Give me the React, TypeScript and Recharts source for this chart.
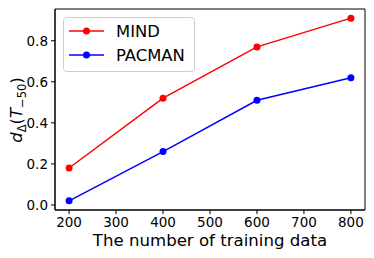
import React from "react";
import {
  LineChart,
  Line,
  XAxis,
  YAxis,
  Legend,
  ReferenceArea,
} from "recharts";

const trainingSizes = [200, 400, 600, 800];
const mindValues = [0.18, 0.52, 0.77, 0.91];
const pacmanValues = [0.02, 0.26, 0.51, 0.62];
const xTicks = [200, 300, 400, 500, 600, 700, 800];
const yTicks = [0, 0.2, 0.4, 0.6, 0.8];
const xDomain = [170, 830];
const yDomain = [-0.0245, 0.9545];

const FONT = "DejaVu Sans, sans-serif";

const chartData = trainingSizes.map((n, i) => ({
  n,
  mind: mindValues[i],
  pacman: pacmanValues[i],
}));

const series = [
  { key: "mind", name: "MIND", color: "#ff0000" },
  { key: "pacman", name: "PACMAN", color: "#0000ff" },
];

function LegendBox() {
  return (
    <svg width={133} height={56} style={{ display: "block" }}>
      <rect
        x={0.5}
        y={0.5}
        width={131}
        height={54}
        rx={3}
        fill="#ffffff"
        fillOpacity={0.8}
        stroke="#cccccc"
      />
      {series.map((s, i) => {
        const y = 14 + i * 24;
        return (
          <g key={s.key}>
            <line x1={6} x2={41} y1={y} y2={y} stroke={s.color} strokeWidth={1.5} />
            <circle cx={23.5} cy={y} r={3.5} fill={s.color} />
            <text
              x={53}
              y={y}
              dominantBaseline="central"
              fontSize={16.4}
              fontFamily={FONT}
              fill="#000"
            >
              {s.name}
            </text>
          </g>
        );
      })}
    </svg>
  );
}

function YLabel() {
  return (
    <text
      x={22}
      y={110}
      transform="rotate(-90, 22, 110)"
      textAnchor="middle"
      fontFamily={FONT}
      fontSize={16.5}
      fill="#000"
    >
      <tspan fontStyle="italic">d</tspan>
      <tspan fontSize={11.5} dy={4}>Δ</tspan>
      <tspan dy={-4}>(</tspan>
      <tspan fontStyle="italic">T</tspan>
      <tspan fontSize={11.5} dy={4}>−50</tspan>
      <tspan dy={-4}>)</tspan>
    </text>
  );
}

function XLabel() {
  return (
    <text
      x={210}
      y={246}
      textAnchor="middle"
      fontFamily={FONT}
      fontSize={16.6}
      fill="#000"
    >
      The number of training data
    </text>
  );
}

export default function App() {
  return (
    <div style={{ position: "absolute", left: 0, top: 0, background: "#fff" }}>
      <LineChart
        width={374}
        height={258}
        data={chartData}
        margin={{ top: 9, right: 9, left: 0, bottom: 0 }}
      >
        <XAxis
          dataKey="n"
          type="number"
          domain={xDomain}
          ticks={xTicks}
          allowDataOverflow
          height={48}
          tick={{ fontSize: 13.5, fill: "#000", fontFamily: FONT }}
          tickSize={4}
          tickMargin={3}
          stroke="#000"
          label={<XLabel />}
        />
        <YAxis
          type="number"
          domain={yDomain}
          ticks={yTicks}
          allowDataOverflow
          width={55}
          tick={{ fontSize: 13.5, fill: "#000", fontFamily: FONT }}
          tickFormatter={(v: number) => v.toFixed(1)}
          tickSize={4}
          tickMargin={3}
          stroke="#000"
          label={<YLabel />}
        />
        <ReferenceArea
          x1={xDomain[0]}
          x2={xDomain[1]}
          y1={yDomain[0]}
          y2={yDomain[1]}
          fill="none"
          stroke="#000"
          strokeWidth={1}
          ifOverflow="visible"
        />
        <Legend
          layout="horizontal"
          verticalAlign="middle"
          align="center"
          wrapperStyle={{ position: "absolute", left: 63, top: 17, width: 133 }}
          content={() => <LegendBox />}
        />
        {series.map((s) => (
          <Line
            key={s.key}
            dataKey={s.key}
            name={s.name}
            stroke={s.color}
            strokeWidth={1.5}
            dot={{ r: 3.5, fill: s.color, stroke: s.color, strokeWidth: 0 }}
            activeDot={false}
            isAnimationActive={false}
          />
        ))}
      </LineChart>
    </div>
  );
}
